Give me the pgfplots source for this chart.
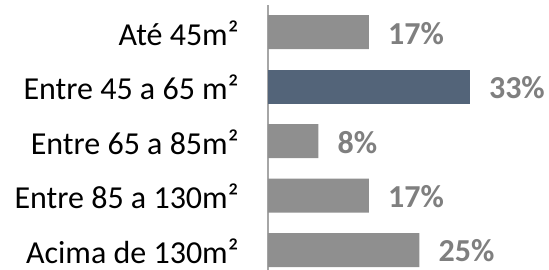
\documentclass[border=0pt]{standalone}
\usepackage{fontspec}
\setmainfont{Carlito}
\usepackage{pgfplots}
\pgfplotsset{compat=1.18}
\definecolor{barGray}{RGB}{143,143,143}
\definecolor{barBlue}{RGB}{83,100,121}
\definecolor{txtGray}{RGB}{127,127,127}
\definecolor{axGray}{RGB}{166,166,166}
\begin{document}
\begin{tikzpicture}
\path[use as bounding box] (0,0) rectangle (549pt,270pt);
\begin{axis}[
  at={(268pt,0pt)}, anchor=south west,
  scale only axis, width=281pt, height=265pt,
  xmin=0, xmax=46.4,
  ymin=-0.5, ymax=4.367,
  y dir=reverse,
  hide x axis,
  axis y line*=left,
  y axis line style={axGray, line width=1.6pt, -},
  ytick={0,1,2,3,4},
  yticklabels={Até 45m²,Entre 45 a 65 m²,Entre 65 a 85m²,Entre 85 a 130m²,Acima de 130m²},
  ytick style={draw=none},
  yticklabel style={font=\fontsize{32}{38}\selectfont, text=black, inner sep=0pt, anchor=east, xshift=-25pt, yshift=-1pt},
  xbar, bar width=34pt,
  nodes near coords,
  point meta=explicit symbolic,
  every node near coord/.append style={font=\fontsize{32}{38}\selectfont\bfseries, text=txtGray, anchor=west, inner sep=0pt, xshift=19pt, yshift=-1pt},
  clip=false,
]
\addplot[fill=barGray, draw=none, bar shift=0pt] coordinates {
  (16.67,0) [17\%]
  (8.33,2) [8\%]
  (16.67,3) [17\%]
  (25,4) [25\%]
};
\addplot[fill=barBlue, draw=none, bar shift=0pt] coordinates {
  (33.33,1) [33\%]
};
\end{axis}
\end{tikzpicture}
\end{document}
